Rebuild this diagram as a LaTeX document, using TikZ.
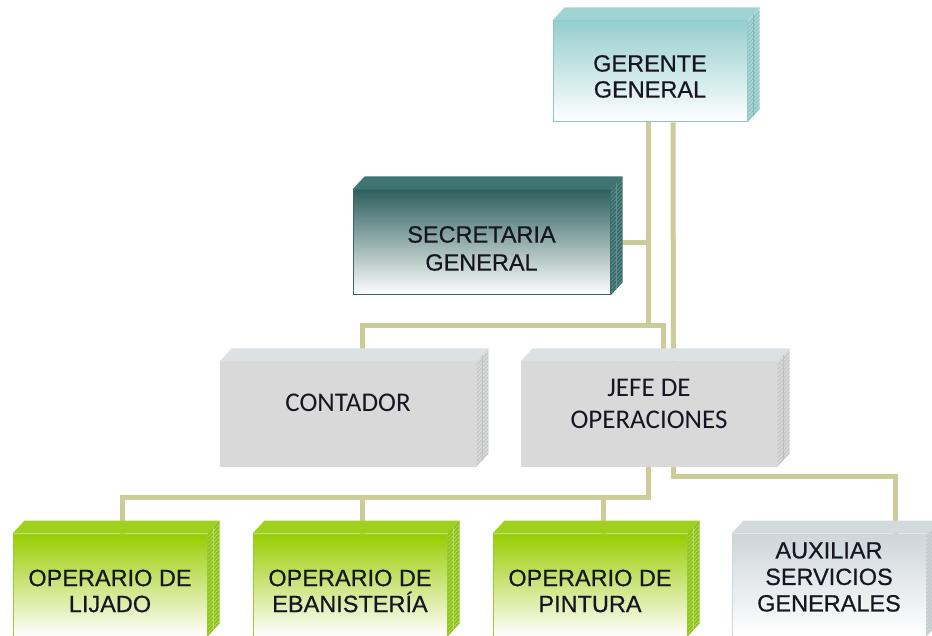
\documentclass[tikz,border=0pt]{standalone}
\usepackage{fontspec}
\setmainfont[FakeBold=0.6]{Liberation Sans}
\newfontfamily\calibri{Carlito}
\usetikzlibrary{positioning}

\definecolor{linea}{RGB}{204,204,153}
\definecolor{texto}{RGB}{22,22,34}
\definecolor{gerA}{RGB}{150,206,206}
\definecolor{gerB}{RGB}{140,198,198}
\definecolor{gerTop}{RGB}{160,210,210}
\definecolor{gerSide}{RGB}{170,214,214}
\definecolor{gerGrid}{RGB}{125,185,185}
\definecolor{secA}{RGB}{45,96,93}
\definecolor{secB}{RGB}{55,105,102}
\definecolor{secTop}{RGB}{62,116,114}
\definecolor{secSide}{RGB}{58,110,108}
\definecolor{secGrid}{RGB}{100,145,142}
\definecolor{grisA}{RGB}{217,217,217}
\definecolor{grisTop}{RGB}{220,225,227}
\definecolor{grisSide}{RGB}{214,216,218}
\definecolor{grisGrid}{RGB}{190,192,194}
\definecolor{verdeA}{RGB}{153,204,0}
\definecolor{verdeB}{RGB}{154,205,50}
\definecolor{verdeTop}{RGB}{160,208,30}
\definecolor{verdeSide}{RGB}{142,194,26}
\definecolor{verdeGrid}{RGB}{185,222,100}
\definecolor{auxA}{RGB}{205,214,218}
\definecolor{auxTop}{RGB}{211,218,221}
\definecolor{auxSide}{RGB}{207,214,217}
\definecolor{auxGrid}{RGB}{185,192,195}

% top and side faces of a box node
\newcommand{\caras}[4]{%
  \fill[#2] (#1.north west) -- ++(12,-13) -- ([shift={(12,-13)}]#1.north east) -- (#1.north east) -- cycle;
  \fill[#3] (#1.north east) -- ++(12,-13) -- ([shift={(12,-13)}]#1.south east) -- (#1.south east) -- cycle;
  \begin{scope}
    \clip (#1.north east) -- ++(12,-13) -- ([shift={(12,-13)}]#1.south east) -- (#1.south east) -- cycle;
    \foreach \k in {4,8,...,124} \draw[#4, line width=0.6pt] ([yshift=-\k pt]#1.north east) -- ++(12,-13);
    \draw[#4, line width=0.6pt] ([shift={(6,-6.5)}]#1.north east) -- ([shift={(6,-6.5)}]#1.south east);
  \end{scope}}

\begin{document}
\begin{tikzpicture}[
                x=1pt, y=-1pt,
                caja/.style = {
                    inner sep = 0pt,
                    line width = 1pt
                },
                rotulo/.style = {
                    align = center,
                    text = texto,
                    font = \fontsize{23.5}{26}\selectfont
                },
                verde/.style = {
                    caja,
                    draw = verdeB,
                    top color = verdeA,
                    bottom color = white,
                    minimum width = 194pt,
                    minimum height = 102pt
                },
                gris/.style = {
                    caja,
                    draw = grisA,
                    fill = grisA,
                    minimum width = 256pt,
                    minimum height = 104pt
                },
                grisrot/.style = {rotulo, font = \calibri\fontsize{27}{32}\selectfont},
                con/.style = {draw = linea, line width = 5pt}
            ]
            \useasboundingbox (0,0) rectangle (932,636);
            \node[caja, draw=gerB, top color=gerA, bottom color=white,
                  minimum width=194pt, minimum height=101pt,
                  label={[name=gerT, rotulo, yshift=-5pt]center:GERENTE\\GENERAL}] (ger) at (650,71.5) {};
            \node[caja, draw=secB, top color=secA, bottom color=white,
                  minimum width=257pt, minimum height=105pt,
                  label={[name=secT, rotulo, font=\fontsize{23.5}{28}\selectfont, yshift=-6pt]center:SECRETARIA\\GENERAL}] (sec) at (481.5,242.5) {};
            %
            \node[gris, label={[name=contT, grisrot, yshift=11pt]center:CONTADOR}] (cont) at (348,414) {};
            \node[gris, right=44pt of cont,
                  label={[name=jefeT, grisrot, yshift=10pt]center:JEFE DE\\OPERACIONES}] (jefe) {};
            %
            \node[verde, label={[name=lijT, rotulo, yshift=-6pt]center:OPERARIO DE\\LIJADO}] (lij) at (110,585) {};
            \node[verde, right=45pt of lij,
                  label={[name=ebaT, rotulo, yshift=-6pt]center:OPERARIO DE\\EBANISTERÍA}] (eba) {};
            \node[verde, right=45pt of eba,
                  label={[name=pinT, rotulo, yshift=-6pt]center:OPERARIO DE\\PINTURA}] (pin) {};
            \node[caja, draw=auxA, top color=auxA, bottom color=white,
                  minimum width=194pt, minimum height=102pt, right=44pt of pin,
                  label={[name=auxT, rotulo, font=\fontsize{23.5}{26.5}\selectfont, yshift=8pt]center:AUXILIAR\\SERVICIOS\\GENERALES}] (aux) {};
            %
            \draw[con] ([xshift=-2pt]ger.south) |- (sec.east);
            \draw[con] ([xshift=-2pt]ger.south) -- ++(0,203) -| ([xshift=14pt]cont.north);
            \draw[con] ([xshift=-2pt]ger.south) -- ++(0,203) -| ([xshift=14.5pt]jefe.north);
            \draw[con] ([xshift=23pt]ger.south) -- ([xshift=24.5pt]jefe.north);
            %
            \draw[con] ([xshift=-0.5pt]jefe.south) -- ++(0,31) -| ([xshift=12pt]lij.north);
            \draw[con] ([xshift=-0.5pt]jefe.south) -- ++(0,31) -| ([xshift=12.5pt]eba.north);
            \draw[con] ([xshift=-0.5pt]jefe.south) -- ++(0,31) -| ([xshift=13.5pt]pin.north);
            \draw[con] ([xshift=24.5pt]jefe.south) -- ++(0,10) -| ([xshift=66.5pt]aux.north);
            %
            \caras{ger}{gerTop}{gerSide}{gerGrid}
            \caras{sec}{secTop}{secSide}{secGrid}
            \caras{cont}{grisTop}{grisSide}{grisGrid}
            \caras{jefe}{grisTop}{grisSide}{grisGrid}
            \caras{lij}{verdeTop}{verdeSide}{verdeGrid}
            \caras{eba}{verdeTop}{verdeSide}{verdeGrid}
            \caras{pin}{verdeTop}{verdeSide}{verdeGrid}
            \caras{aux}{auxTop}{auxSide}{auxGrid}
        \end{tikzpicture}
\end{document}
